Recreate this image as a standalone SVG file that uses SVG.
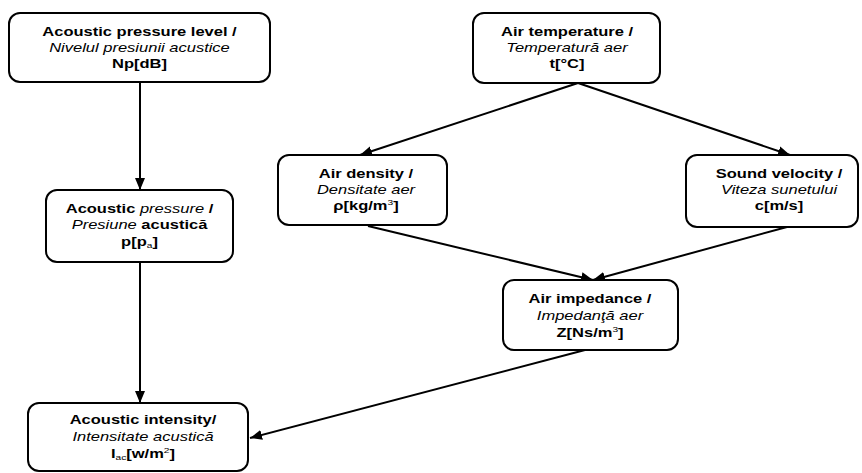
<svg xmlns="http://www.w3.org/2000/svg" width="862" height="473" viewBox="0 0 862 473">
<defs>
<marker id="arr" markerUnits="userSpaceOnUse" markerWidth="12" markerHeight="12" viewBox="0 0 12 12" refX="12" refY="6" orient="auto">
<path d="M0,1 L12,6 L0,11 z" fill="#000"/>
</marker>
<style>
.box{fill:#fff;stroke:#000;stroke-width:2}
.t{font-family:"Liberation Sans",Arial,sans-serif;font-size:13px;font-weight:bold;text-anchor:middle;fill:#000}
.i{font-style:italic;font-weight:normal}
.sub{font-size:8px;font-weight:normal}
.con{stroke:#000;stroke-width:2;fill:none;marker-end:url(#arr)}
</style>
</defs>
<rect width="862" height="473" fill="#fff"/>
<g id="connectors">
<line class="con" x1="140" y1="83" x2="140" y2="190"/>
<line class="con" x1="578" y1="83" x2="360" y2="155"/>
<line class="con" x1="578" y1="83" x2="790" y2="155"/>
<line class="con" x1="368" y1="226" x2="593" y2="280"/>
<line class="con" x1="787" y1="227" x2="593" y2="280"/>
<line class="con" x1="140" y1="262" x2="140" y2="403"/>
<line class="con" x1="585" y1="350" x2="250" y2="438"/>
</g>
<g id="n_level">
<rect class="box" x="9" y="13" width="261" height="69" rx="11"/>
<text class="t" transform="translate(139.5 0) scale(1.27 1)"><tspan x="0" y="36">Acoustic pressure level /</tspan><tspan class="i" x="0" y="52">Nivelul presiunii acustice</tspan><tspan x="0" y="68">Np[dB]</tspan></text>
</g>
<g id="n_temp">
<rect class="box" x="473" y="13" width="187" height="70" rx="11"/>
<text class="t" transform="translate(567 0) scale(1.27 1)"><tspan x="0" y="36">Air temperature /</tspan><tspan class="i" x="0" y="52">Temperatură aer</tspan><tspan x="0" y="68">t[°C]</tspan></text>
</g>
<g id="n_density">
<rect class="box" x="278" y="155" width="169" height="70" rx="11"/>
<text class="t" transform="translate(366 0) scale(1.27 1)"><tspan x="0" y="178">Air density /</tspan><tspan class="i" x="0" y="194">Densitate aer</tspan><tspan x="0" y="210">ρ[kg/m<tspan class="sub" dy="-5">3</tspan><tspan dy="5">]</tspan></tspan></text>
</g>
<g id="n_velocity">
<rect class="box" x="686" y="155" width="172" height="72" rx="11"/>
<text class="t" transform="translate(779 0) scale(1.27 1)"><tspan x="0" y="178">Sound velocity /</tspan><tspan class="i" x="0" y="194">Viteza sunetului</tspan><tspan x="0" y="210">c[m/s]</tspan></text>
</g>
<g id="n_pressure">
<rect class="box" x="46" y="190" width="187" height="72" rx="11"/>
<text class="t" transform="translate(139.5 0) scale(1.27 1)"><tspan x="0" y="213">Acoustic <tspan class="i">pressure</tspan> /</tspan><tspan x="0" y="229"><tspan class="i">Presiune</tspan> acustică</tspan><tspan x="0" y="246">p[p<tspan class="sub" dy="2">a</tspan><tspan dy="-2">]</tspan></tspan></text>
</g>
<g id="n_impedance">
<rect class="box" x="503" y="280" width="175" height="70" rx="11"/>
<text class="t" transform="translate(590 0) scale(1.27 1)"><tspan x="0" y="303">Air impedance /</tspan><tspan class="i" x="0" y="320">Impedanţă aer</tspan><tspan x="0" y="337">Z[Ns/m<tspan class="sub" dy="-5">3</tspan><tspan dy="5">]</tspan></tspan></text>
</g>
<g id="n_intensity">
<rect class="box" x="28" y="403" width="220" height="68" rx="11"/>
<text class="t" transform="translate(143 0) scale(1.27 1)"><tspan x="0" y="424">Acoustic intensity/</tspan><tspan class="i" x="0" y="441">Intensitate acustică</tspan><tspan x="0" y="458">I<tspan class="sub" dy="2">ac</tspan><tspan dy="-2">[w/m</tspan><tspan class="sub" dy="-5">2</tspan><tspan dy="5">]</tspan></tspan></text>
</g>
</svg>
